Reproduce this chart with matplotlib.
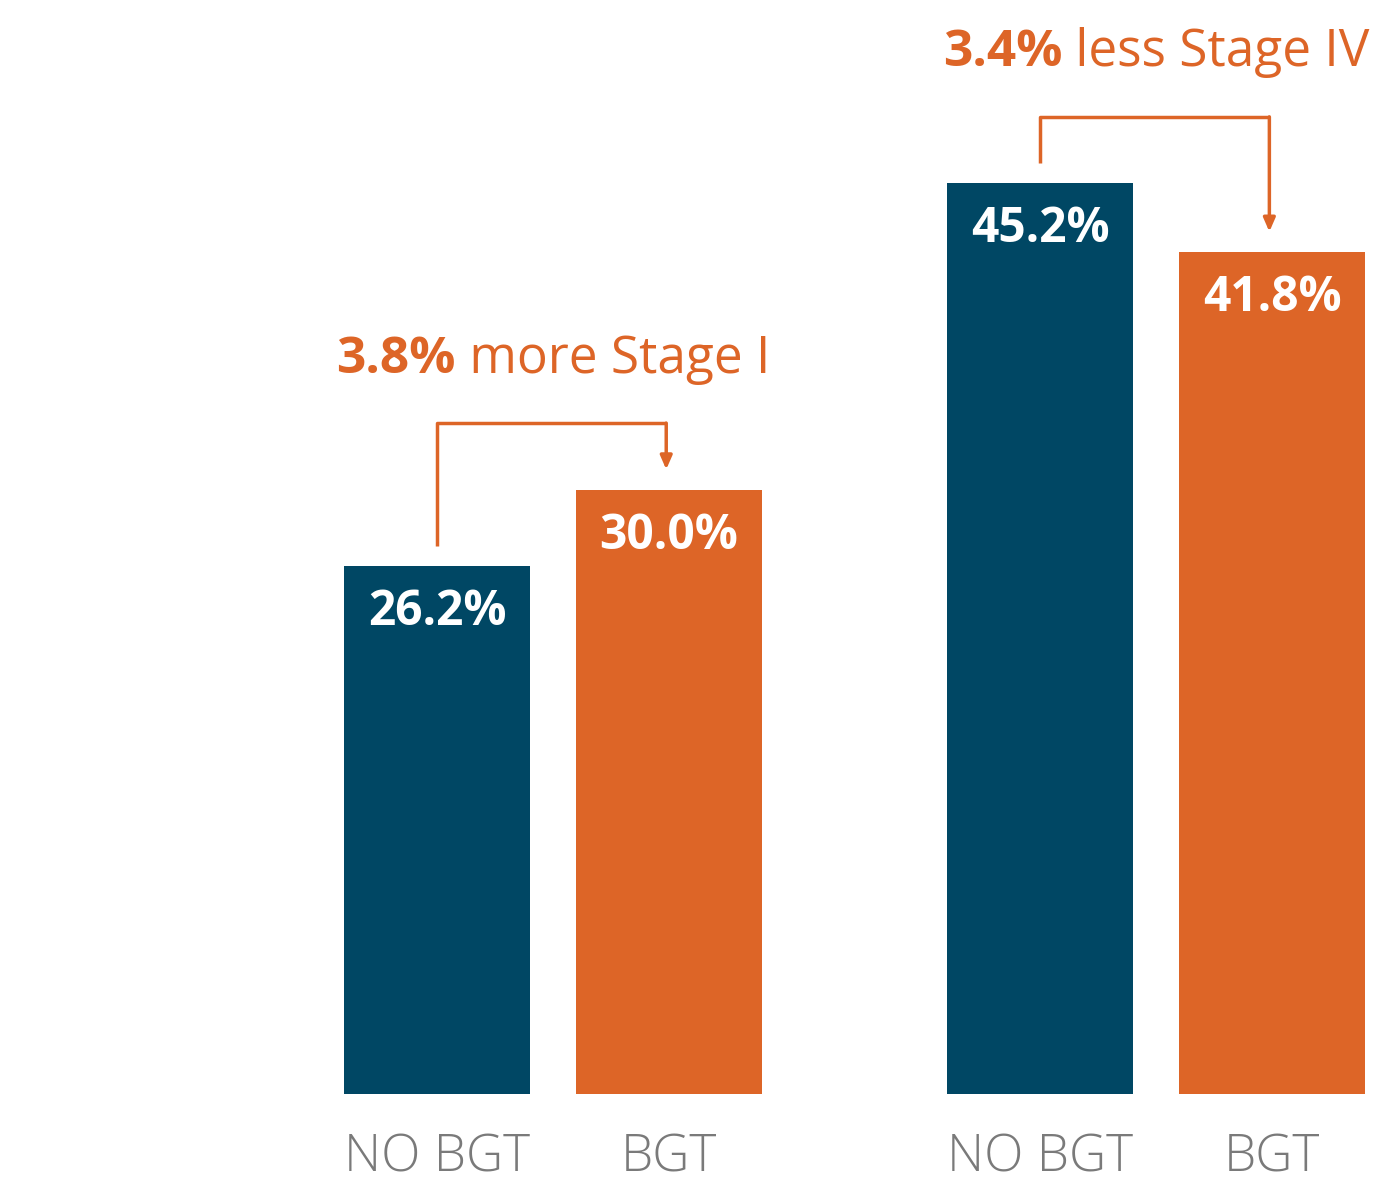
import numpy as np
import matplotlib.pyplot as plt

plt.rcParams['font.family'] = ['Open Sans', 'DejaVu Sans']

groups = ["Stage I", "Stage IV"]
labels = ["NO BGT", "BGT", "NO BGT", "BGT"]
no_bgt = [26.2, 45.2]
bgt = [30.0, 41.8]
diffs = ["3.8%", "3.4%"]
notes = [" more Stage I", " less Stage IV"]

navy = "#004764"
orange = "#DD6527"
grey = "#7a7a7a"

fig = plt.figure(figsize=(13.77, 11.83), dpi=100)
ax = fig.add_axes([0, 89 / 1183, 1, 1094 / 1183])

group_pos = np.array([0, 2.6])
x_no = group_pos
x_bgt = group_pos + 1
width = 0.8

ax.bar(x_no, no_bgt, width=width, color=navy)
ax.bar(x_bgt, bgt, width=width, color=orange)

ax.set_xlim(-1.884, 4.052)
ax.set_ylim(0, 54.3)
for s in ax.spines.values():
    s.set_visible(False)
ax.set_yticks([])
ax.set_xticks(np.concatenate([[x_no[0], x_bgt[0]], [x_no[1], x_bgt[1]]]))
ax.set_xticklabels(labels, fontsize=37, color=grey, fontweight='light')
ax.tick_params(axis='x', length=0, pad=27)

# value labels inside bars
for xs, vals in [(x_no, no_bgt), (x_bgt, bgt)]:
    for x, v in zip(xs, vals):
        ax.annotate(f"{v:.1f}%", (x, v), xytext=(0, -42.5), textcoords='offset points',
                    ha='center', va='baseline', color='white', fontsize=34.5, fontweight='bold')

fig.canvas.draw()
renderer = fig.canvas.get_renderer()

for i in range(len(groups)):
    a, b = no_bgt[i], bgt[i]
    top = max(a, b) + 3.3
    xa, xb = x_no[i], x_bgt[i] - 0.012
    ax.plot([xa, xa, xb], [a + 1.0, top, top], color=orange, lw=2.5, solid_capstyle='butt')
    ax.annotate("", xy=(xb, b + 1.0), xytext=(xb, top),
                arrowprops=dict(arrowstyle='-|>,head_length=0.8,head_width=0.35',
                                color=orange, lw=2.5, shrinkA=0, shrinkB=0))

    # headline: bold number + regular text, centered over the pair
    ty = max(a, b) + 5.8
    cx = (xa + x_bgt[i]) / 2
    t1 = ax.text(0, ty, diffs[i], fontsize=37, fontweight='bold', color=orange, va='baseline')
    t2 = ax.text(0, ty, notes[i], fontsize=37, color=orange, va='baseline')
    w1 = t1.get_window_extent(renderer).width
    w2 = t2.get_window_extent(renderer).width
    px_per_x = ax.transData.transform((1, 0))[0] - ax.transData.transform((0, 0))[0]
    total = (w1 + w2) / px_per_x
    left = cx - total / 2
    t1.set_x(left)
    t2.set_x(left + w1 / px_per_x)

fig.savefig("out.png", dpi=100)
